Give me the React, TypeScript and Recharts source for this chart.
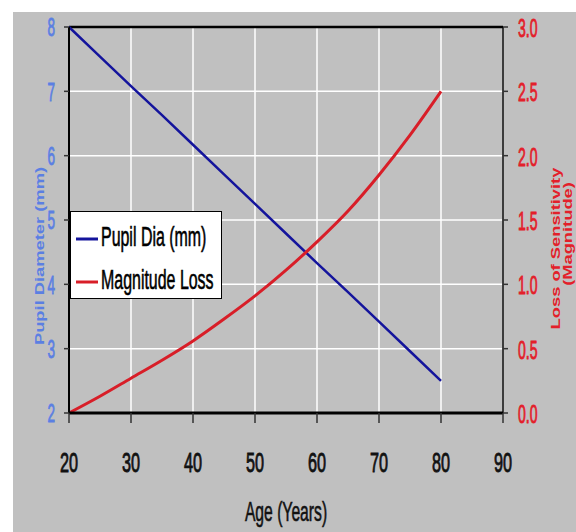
import React from 'react';
import { LineChart, Line, XAxis, YAxis, CartesianGrid, Legend, ReferenceLine, Label } from 'recharts';

const ages = [20, 25, 30, 35, 40, 45, 50, 55, 60, 65, 70, 75, 80];
const pupilDia = [8.0, 7.54, 7.08, 6.63, 6.17, 5.71, 5.25, 4.79, 4.33, 3.88, 3.42, 2.96, 2.5];
const magLoss = [0, 0.13, 0.27, 0.41, 0.56, 0.73, 0.91, 1.11, 1.33, 1.57, 1.85, 2.16, 2.5];
const xTicks = [20, 30, 40, 50, 60, 70, 80, 90];
const leftTicks = [2, 3, 4, 5, 6, 7, 8];
const rightTicks = [0, 0.5, 1, 1.5, 2, 2.5, 3];
const seriesNames = ['Pupil Dia (mm)', 'Magnitude Loss'];
const titles = { x: 'Age (Years)', left: 'Pupil Diameter (mm)', right1: 'Loss of Sensitivity', right2: '(Magnitude)' };

const data = ages.map((a, i) => ({ age: a, pupil: pupilDia[i], loss: magLoss[i] }));

const FONT = '"Liberation Sans", Arial, sans-serif';
const BLUE_TXT = '#5B7FE3';
const RED_TXT = '#E3202A';
const BLUE_LINE = '#14149C';
const RED_LINE = '#D81E28';

const LeftTick = (props: any) => {
  const { x, y, payload } = props;
  return (
    <g transform={`translate(${x},${y})`}>
      <text transform="scale(0.52,1)" textAnchor="end" dy={9.3} fontSize={26} fill={BLUE_TXT} stroke={BLUE_TXT} strokeWidth={0.9} fontFamily={FONT}>
        {payload.value}
      </text>
    </g>
  );
};

const RightTick = (props: any) => {
  const { x, y, payload } = props;
  return (
    <g transform={`translate(${x},${y})`}>
      <text transform="scale(0.56,1)" textAnchor="start" dy={10} fontSize={25} fill={RED_TXT} stroke={RED_TXT} strokeWidth={0.9} fontFamily={FONT}>
        {Number(payload.value).toFixed(1)}
      </text>
    </g>
  );
};

const BottomTick = (props: any) => {
  const { x, y, payload } = props;
  return (
    <g transform={`translate(${x},${y})`}>
      <text transform="scale(0.58,1)" textAnchor="middle" dy={48.7} fontSize={28} fill="#111" stroke="#111" strokeWidth={0.9} fontFamily={FONT}>
        {payload.value}
      </text>
    </g>
  );
};

const LegendBox = (props: any) => {
  const payload = [...(props.payload || [])].sort(
    (a: any, b: any) => seriesNames.indexOf(a.value) - seriesNames.indexOf(b.value)
  );
  return (
    <div style={{ width: 150, height: 86, background: '#fff', border: '1px solid #000' }}>
      <svg width={150} height={86}>
        {payload.map((p: any, i: number) => (
          <g key={i} transform={`translate(0,${27 + i * 43})`}>
            <line x1={5} x2={27} y1={0} y2={0} stroke={p.color} strokeWidth={3} />
            <g transform="translate(30,7)">
              <text transform="scale(0.57,1)" fontSize={28} fill="#000" stroke="#000" strokeWidth={0.6} fontFamily={FONT}>
                {p.value}
              </text>
            </g>
          </g>
        ))}
      </svg>
    </div>
  );
};

const RotTitle = ({ x, y, text, color }: { x: number; y: number; text: string; color: string }) => (
  <g transform={`translate(${x},${y}) rotate(-90) scale(1.41,1)`}>
    <text textAnchor="middle" dominantBaseline="central" fontSize={13} fontWeight="bold" fill={color} fontFamily={FONT}>
      {text}
    </text>
  </g>
);

export default function App() {
  return (
    <>
      <style>{'html,body{margin:0;padding:0;overflow:hidden;background:#fff}'}</style>
      <div style={{ position: 'absolute', left: 13, top: 12, width: 563, height: 520, background: '#C0C0C0' }}>
        <LineChart width={563} height={520} data={data} margin={{ top: 15, right: 0, left: 0, bottom: 0 }}>
          <CartesianGrid yAxisId="left" stroke="#FFFFFF" strokeWidth={1.5} horizontal vertical />
          <XAxis
            dataKey="age"
            type="number"
            domain={[20, 90]}
            ticks={xTicks}
            height={119}
            axisLine={{ stroke: '#000', strokeWidth: 3 }}
            tickLine={{ stroke: '#333', strokeWidth: 1.5 }}
            tickSize={10}
            tickMargin={0}
            tick={<BottomTick />}
            interval={0}
          >
            <Label
              content={() => (
                <g transform="translate(273,508.7)">
                  <text transform="scale(0.56,1)" textAnchor="middle" fontSize={28} fill="#111" stroke="#111" strokeWidth={0.6} fontFamily={FONT}>
                    {titles.x}
                  </text>
                </g>
              )}
            />
          </XAxis>
          <YAxis
            yAxisId="left"
            orientation="left"
            width={56}
            domain={[2, 8]}
            ticks={leftTicks}
            axisLine={{ stroke: '#000', strokeWidth: 2 }}
            tickLine={{ stroke: '#333', strokeWidth: 1.5 }}
            tickSize={5}
            tickMargin={9}
            tick={<LeftTick />}
            interval={0}
          >
            <Label content={() => <RotTitle x={26.5} y={244} text={titles.left} color={BLUE_TXT} />} />
          </YAxis>
          <YAxis
            yAxisId="right"
            orientation="right"
            width={73}
            domain={[0, 3]}
            ticks={rightTicks}
            axisLine={{ stroke: '#000', strokeWidth: 1.5 }}
            tickLine={{ stroke: '#333', strokeWidth: 1.5 }}
            tickSize={5}
            tickMargin={10}
            tick={<RightTick />}
            interval={0}
          >
            <Label
              content={() => (
                <g>
                  <RotTitle x={543} y={236.5} text={titles.right1} color={RED_TXT} />
                  <RotTitle x={554.5} y={222} text={titles.right2} color={RED_TXT} />
                </g>
              )}
            />
          </YAxis>
          <ReferenceLine yAxisId="left" y={8} stroke="#000" strokeWidth={2.5} />
          <Legend
            layout="horizontal"
            verticalAlign="middle"
            align="center"
            content={<LegendBox />}
            wrapperStyle={{ position: 'absolute', left: 57, top: 199, width: 152, height: 88 }}
          />
          <Line
            yAxisId="left"
            type="linear"
            dataKey="pupil"
            name={seriesNames[0]}
            stroke={BLUE_LINE}
            strokeWidth={2.5}
            dot={false}
            isAnimationActive={false}
          />
          <Line
            yAxisId="right"
            type="monotone"
            dataKey="loss"
            name={seriesNames[1]}
            stroke={RED_LINE}
            strokeWidth={3}
            dot={false}
            isAnimationActive={false}
          />
        </LineChart>
      </div>
    </>
  );
}
